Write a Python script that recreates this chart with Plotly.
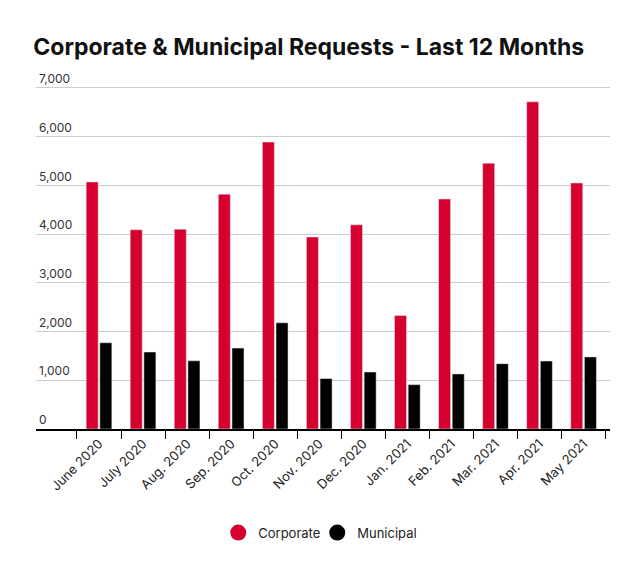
import plotly.graph_objects as go

months = ["June 2020", "July 2020", "Aug. 2020", "Sep. 2020", "Oct. 2020", "Nov. 2020",
          "Dec. 2020", "Jan. 2021", "Feb. 2021", "Mar. 2021", "Apr. 2021", "May 2021"]
corporate = [5070, 4090, 4100, 4820, 5890, 3940, 4190, 2330, 4720, 5455, 6715, 5050]
municipal = [1770, 1580, 1400, 1660, 2180, 1035, 1170, 910, 1130, 1340, 1395, 1480]

red = "#D6002E"
font_name = "Inter"

fig = go.Figure()
fig.add_trace(go.Bar(x=months, y=corporate, name="Corporate", marker_color=red,
                     showlegend=False, hoverinfo="y"))
fig.add_trace(go.Bar(x=months, y=municipal, name="Municipal", marker_color="black",
                     showlegend=False, hoverinfo="y"))
# circle swatches for the legend
for name, col in [("Corporate", red), ("Municipal", "black")]:
    fig.add_trace(go.Scatter(x=[None], y=[None], mode="markers", name=name,
                             marker=dict(color=col, size=16, symbol="circle")))

fig.update_layout(
    width=640, height=573,
    margin=dict(l=36, r=30, t=86, b=144),
    paper_bgcolor="white", plot_bgcolor="white",
    font=dict(family=font_name, size=13, color="#222"),
    title=dict(text="<b>Corporate & Municipal Requests - Last 12 Months</b>",
               font=dict(size=23, color="#111", family=font_name),
               x=0.052, xanchor="left", xref="container",
               y=0.918, yanchor="middle", yref="container"),
    barmode="group", bargap=0.38, bargroupgap=0.12,
    xaxis=dict(range=[-1.43, 11.6], tickangle=-45, tickson="boundaries",
               ticks="outside", ticklen=8, tickcolor="black", tickwidth=1,
               showline=True, linecolor="black", linewidth=2, showgrid=False,
               tickfont=dict(size=13, color="#222")),
    yaxis=dict(range=[0, 7040], dtick=1000, tickformat=",",
               showgrid=True, gridcolor="#cccccc", gridwidth=1,
               zeroline=False, showline=False,
               ticklabelposition="inside", ticklabelshift=-9, ticklabelstandoff=0,
               ticklabeloverflow="allow",
               tickfont=dict(size=12, color="#333")),
    legend=dict(orientation="h", x=0.49, xanchor="center", y=-0.302, yanchor="middle",
                font=dict(size=13, color="#222"), itemsizing="trace",
                entrywidth=54, entrywidthmode="pixels"),
)

fig.write_html("out.html", config={"displayModeBar": False},
               post_script="document.body.style.margin='0';")
